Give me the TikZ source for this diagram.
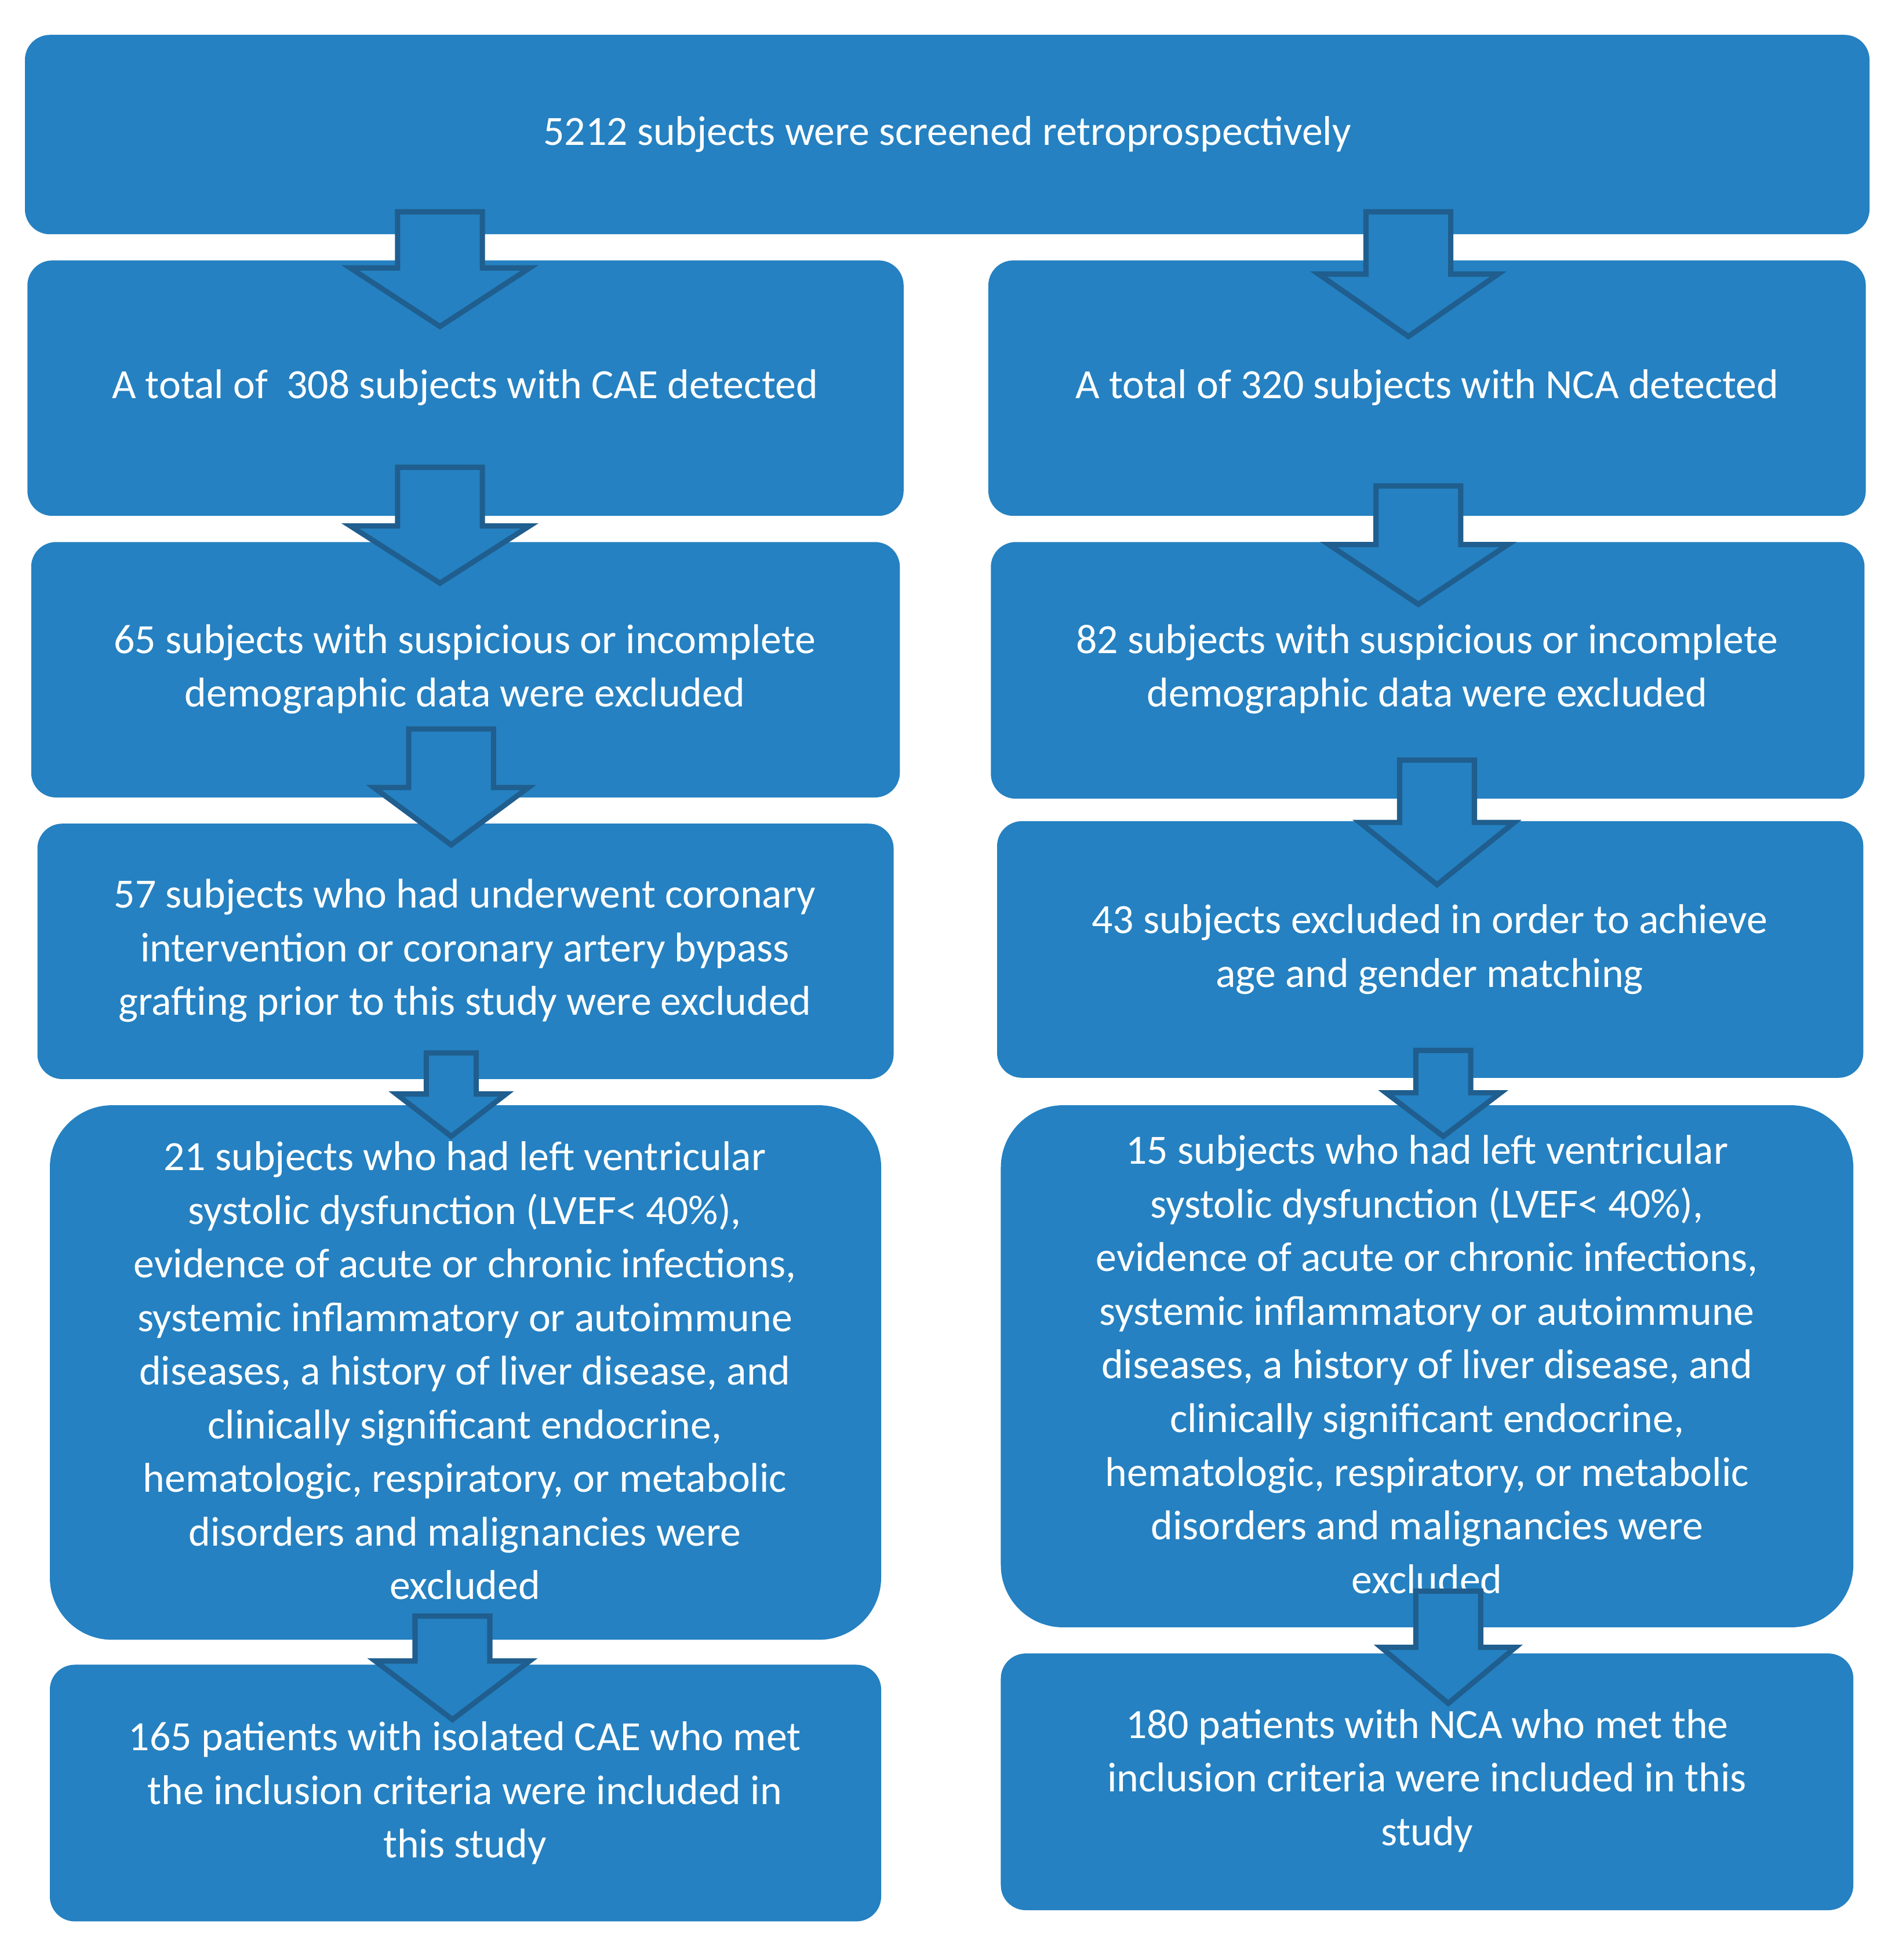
\documentclass[tikz,border=0pt]{standalone}
\usepackage{fontspec}
\setmainfont{Carlito}
\definecolor{boxblue}{HTML}{2581C1}
\definecolor{edgeblue}{HTML}{1F5E8E}
\newcommand{\blockarrow}[6]{% cx, top, shoulder, tip, shaft half, head half
  \draw[arr] (#1-#5,#2) -- (#1+#5,#2) -- (#1+#5,#3) -- (#1+#6,#3) -- (#1,#4) -- (#1-#6,#3) -- (#1-#5,#3) -- cycle;}
\begin{document}
\begin{tikzpicture}[x=0.02cm,y=-0.02cm,
  box/.style={fill=boxblue,draw=none,rounded corners=0.4cm},
  big/.style={fill=boxblue,draw=none,rounded corners=1cm},
  txt/.style={text=white,align=center,font=\fontsize{19}{24.5}\selectfont},
  arr/.style={fill=boxblue,draw=edgeblue,line width=2.4pt,line join=miter}]
\useasboundingbox (0,0) rectangle (1520,1573);
\fill[box] (20,28) rectangle (1500,188);
\node[txt] (top) at (760,108) {5212 subjects were screened retroprospectively};
\fill[box] (22,209) rectangle (725,414);
\node[txt] (l1) at (373,311) {A total of\ \ 308 subjects with CAE detected};
\fill[box] (793,209) rectangle (1497,414);
\node[txt] (r1) at (1145,311) {A total of 320 subjects with NCA detected};
\fill[box] (25,435) rectangle (722,640);
\node[txt] (l2) at (373,537) {65 subjects with suspicious or incomplete\\demographic data were excluded};
\fill[box] (795,435) rectangle (1496,641);
\node[txt] (r2) at (1145,537) {82 subjects with suspicious or incomplete\\demographic data were excluded};
\fill[box] (30,661) rectangle (717,866);
\node[txt] (l3) at (373,763) {57 subjects who had underwent coronary\\intervention or coronary artery bypass\\grafting prior to this study were excluded};
\fill[box] (800,659) rectangle (1495,865);
\node[txt] (r3) at (1147,762) {43 subjects excluded in order to achieve\\age and gender matching};
\fill[big] (40,887) rectangle (707,1316);
\node[txt] (l4) at (373,1100) {21 subjects who had left ventricular\\systolic dysfunction (LVEF< 40\%),\\evidence of acute or chronic infections,\\systemic inflammatory or autoimmune\\diseases, a history of liver disease, and\\clinically significant endocrine,\\hematologic, respiratory, or metabolic\\disorders and malignancies were\\excluded};
\fill[big] (803,887) rectangle (1487,1306);
\node[txt] (r4) at (1145,1095) {15 subjects who had left ventricular\\systolic dysfunction (LVEF< 40\%),\\evidence of acute or chronic infections,\\systemic inflammatory or autoimmune\\diseases, a history of liver disease, and\\clinically significant endocrine,\\hematologic, respiratory, or metabolic\\disorders and malignancies were\\excluded};
\fill[box] (40,1336) rectangle (707,1542);
\node[txt] (l5) at (373,1439) {165 patients with isolated CAE who met\\the inclusion criteria were included in\\this study};
\fill[box] (803,1327) rectangle (1487,1533);
\node[txt] (r5) at (1145,1429) {180 patients with NCA who met the\\inclusion criteria were included in this\\study};
\blockarrow{353}{170}{215}{262}{34}{72}
\blockarrow{1130}{170}{220}{270}{34}{72}
\blockarrow{353}{375}{422}{468}{34}{72}
\blockarrow{1138}{390}{437}{485}{34}{72}
\blockarrow{362}{585}{632}{678}{34}{62}
\blockarrow{1153}{610}{660}{710}{30}{62}
\blockarrow{362}{845}{878}{912}{20}{44}
\blockarrow{1158}{843}{877}{912}{22}{46}
\blockarrow{363}{1297}{1333}{1380}{30}{62}
\blockarrow{1162}{1277}{1322}{1367}{26}{54}
\end{tikzpicture}
\end{document}
